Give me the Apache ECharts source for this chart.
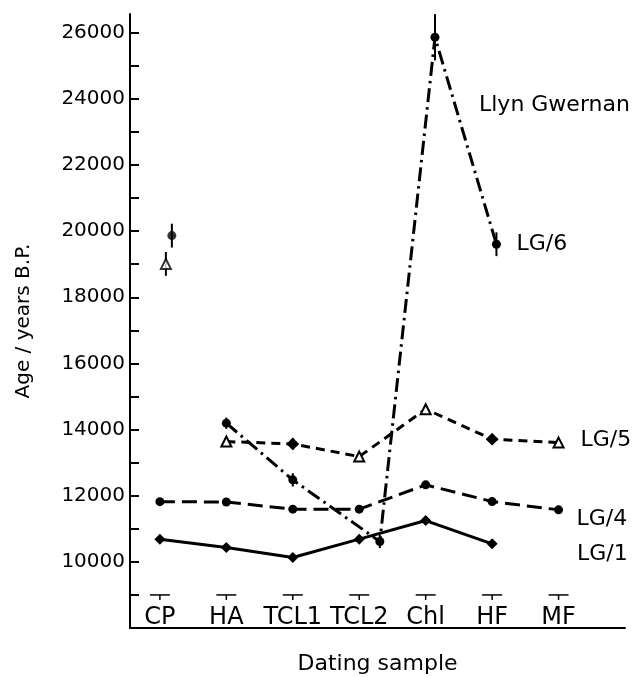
<!DOCTYPE html>
<html><head><meta charset="utf-8">
<script src="https://cdn.jsdelivr.net/npm/echarts@6/dist/echarts.min.js"></script>
<style>html,body{margin:0;padding:0;background:#fff}#c{width:638px;height:677px}</style>
</head><body><div id="c"></div>
<script>
// ---- data ----
const categories = ['CP', 'HA', 'TCL1', 'TCL2', 'Chl', 'HF', 'MF'];
const categoryIndex = [0, 1, 2, 3, 4, 5, 6];
const yTickValues = [9000, 10000, 11000, 12000, 13000, 14000, 15000, 16000, 17000, 18000, 19000, 20000, 21000, 22000, 23000, 24000, 25000, 26000];
const yLabelValues = [10000, 12000, 14000, 16000, 18000, 20000, 22000, 24000, 26000];

// LG/1
const lg1X = [0, 1, 2, 3, 4, 5];
const lg1Y = [10686, 10432, 10130, 10686, 11249, 10544];
// LG/4
const lg4X = [0, 1, 2, 3, 4, 5, 6];
const lg4Y = [11820, 11810, 11593, 11593, 12328, 11823, 11572];
// LG/5 (connected part) and its separate CP point
const lg5X = [1, 2, 3, 4, 5, 6];
const lg5Y = [13637, 13567, 13183, 14616, 13709, 13606];
const lg5Err = [130, 170, 110, 100, 150, 90];
const lg5CpX = [0.09];
const lg5CpY = [19009];
const lg5CpErr = [360];
// LG/6 (connected part) and its separate CP point
const lg6X = [1, 2, 3.31, 4.14, 5.065];
const lg6Y = [14193, 12479, 10614, 25861, 19604];
const lg6Err = [170, 200, 200, 700, 360];
const lg6CpX = [0.18];
const lg6CpY = [19864];
const lg6CpErr = [360];

// ---- styles ----
const lg5Symbols = ['triangle', 'diamond', 'triangle', 'triangle', 'diamond', 'triangle'];
const sampleMarkLevel = 9000;
const FONT = 'DejaVu Sans';
const BLACK = '#000';

const pairs = (xs, ys) => xs.map((x, i) => [x, ys[i]]);
const triples = (xs, ys, es) => xs.map((x, i) => [x, ys[i], es[i]]);

const errData = [].concat(
  triples(lg5X, lg5Y, lg5Err),
  triples(lg5CpX, lg5CpY, lg5CpErr),
  triples(lg6X, lg6Y, lg6Err),
  triples(lg6CpX, lg6CpY, lg6CpErr)
);

const labelStyle = { fontFamily: FONT, fontSize: 22, color: BLACK };

const chart = echarts.init(document.getElementById('c'), null, { renderer: 'canvas' });
chart.setOption({
  animation: false,
  backgroundColor: '#fff',
  grid: { left: 130, right: 13, top: 14, bottom: 49, containLabel: false, outerBoundsMode: 'none' },
  xAxis: {
    type: 'value', min: -0.45, max: 7.0,
    axisLine: { show: true, onZero: false, lineStyle: { color: BLACK, width: 2 } },
    axisTick: { show: false },
    splitLine: { show: false },
    axisLabel: {
      customValues: categoryIndex,
      formatter: v => categories[Math.round(v)] || '',
      inside: true, margin: -2,
      fontFamily: FONT, fontSize: 24, color: BLACK
    },
    name: 'Dating sample', nameLocation: 'middle', nameGap: 25,
    nameTextStyle: { fontFamily: FONT, fontSize: 22, color: BLACK }
  },
  yAxis: {
    type: 'value', min: 8000, max: 26565,
    axisLine: { show: true, onZero: false, lineStyle: { color: BLACK, width: 2 } },
    axisTick: { show: true, inside: true, length: 9, customValues: yTickValues, lineStyle: { color: BLACK, width: 2 } },
    splitLine: { show: false },
    axisLabel: { customValues: yLabelValues, formatter: v => String(v), margin: 5, fontFamily: FONT, fontSize: 20, color: BLACK },
    name: 'Age / years B.P.', nameLocation: 'middle', nameGap: 96, nameRotate: 90,
    nameTextStyle: { fontFamily: FONT, fontSize: 20, color: BLACK }
  },
  graphic: [
    { type: 'text', left: 479, top: 94, style: { text: 'Llyn Gwernan', font: '22px "DejaVu Sans"', fill: BLACK } },
    { type: 'text', left: 577, top: 543, style: { text: 'LG/1', font: '22px "DejaVu Sans"', fill: BLACK } }
  ],
  series: [
    {
      name: 'sample marks', type: 'custom', z: 1, silent: true,
      data: categoryIndex.map(i => [i, sampleMarkLevel]),
      renderItem: (params, api) => {
        const p = api.coord([api.value(0), api.value(1)]);
        return { type: 'group', children: [
          { type: 'line', shape: { x1: p[0] - 10, y1: p[1], x2: p[0] + 10, y2: p[1] }, style: { stroke: BLACK, lineWidth: 1.5 } },
          { type: 'line', shape: { x1: p[0], y1: p[1], x2: p[0], y2: p[1] + 5 }, style: { stroke: BLACK, lineWidth: 1.5 } }
        ] };
      }
    },
    {
      name: 'error bars', type: 'custom', z: 1, silent: true,
      data: errData,
      renderItem: (params, api) => {
        const x = api.value(0), y = api.value(1), e = api.value(2);
        const a = api.coord([x, y - e]), b = api.coord([x, y + e]);
        return { type: 'line', shape: { x1: a[0], y1: a[1], x2: b[0], y2: b[1] }, style: { stroke: BLACK, lineWidth: 2 } };
      }
    },
    {
      name: 'LG/1', type: 'line', z: 3, data: pairs(lg1X, lg1Y),
      symbol: 'diamond', symbolSize: 11, showAllSymbol: true,
      lineStyle: { color: BLACK, width: 3, type: 'solid' },
      itemStyle: { color: BLACK }
    },
    {
      name: 'LG/4', type: 'line', z: 3, data: pairs(lg4X, lg4Y),
      symbol: 'circle', symbolSize: 9,
      lineStyle: { color: BLACK, width: 3, type: [15, 7] },
      itemStyle: { color: BLACK },
      endLabel: Object.assign({ show: true, formatter: 'LG/4', distance: 18, offset: [0, 9] }, labelStyle)
    },
    {
      name: 'LG/5', type: 'line', z: 3,
      data: pairs(lg5X, lg5Y).map((d, i) => ({ value: d, symbol: lg5Symbols[i], itemStyle: lg5Symbols[i] === 'diamond' ? { color: BLACK } : { color: '#fff', borderColor: BLACK, borderWidth: 2 } })),
      symbolSize: 10,
      lineStyle: { color: BLACK, width: 3, type: [9, 6] },
      itemStyle: { color: '#fff', borderColor: BLACK, borderWidth: 2 },
      endLabel: Object.assign({ show: true, formatter: 'LG/5', distance: 22, offset: [0, -2] }, labelStyle)
    },
    {
      name: 'LG/6', type: 'line', z: 3, data: pairs(lg6X, lg6Y),
      symbol: 'circle', symbolSize: 9,
      lineStyle: { color: BLACK, width: 3, type: [14, 5, 2.5, 5] },
      itemStyle: { color: BLACK },
      endLabel: Object.assign({ show: true, formatter: 'LG/6', distance: 20 }, labelStyle)
    },
    {
      name: 'LG/5 CP', type: 'scatter', z: 3, data: pairs(lg5CpX, lg5CpY),
      symbol: 'triangle', symbolSize: 10,
      itemStyle: { color: '#fff', borderColor: BLACK, borderWidth: 2 }
    },
    {
      name: 'LG/6 CP', type: 'scatter', z: 3, data: pairs(lg6CpX, lg6CpY),
      symbol: 'circle', symbolSize: 9,
      itemStyle: { color: BLACK }
    }
  ]
});
</script>
</body></html>
